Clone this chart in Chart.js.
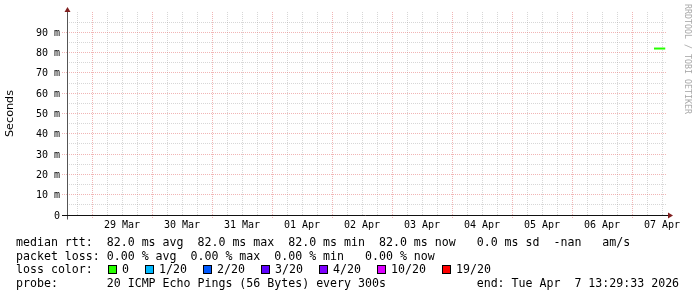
<!DOCTYPE html>
<html>
<head>
<meta charset="utf-8">
<script src="https://cdn.jsdelivr.net/npm/chart.js@4.4.1/dist/chart.umd.min.js"></script>
<style>
html,body{margin:0;padding:0;background:#fff;width:697px;height:297px;overflow:hidden;}
#wrap{position:relative;width:697px;height:297px;}
#c{position:absolute;left:0;top:0;}
.leg{position:absolute;left:16px;font-family:"DejaVu Sans Mono",monospace;font-size:11.6px;line-height:14px;white-space:pre;color:#000;}
.box{position:absolute;box-sizing:border-box;width:9px;height:9px;border:1px solid #000;top:264.5px;}
.lbl{position:absolute;font-family:"DejaVu Sans Mono",monospace;font-size:11.6px;line-height:14px;white-space:pre;color:#000;top:262.4px;}
.wm{position:absolute;left:693px;top:4px;transform-origin:0 0;transform:rotate(90deg);font-family:"DejaVu Sans Mono",monospace;font-size:8.3px;line-height:10px;white-space:pre;color:#a8a8a8;}
</style>
</head>
<body>
<div id="wrap">
<canvas id="c" width="697" height="297"></canvas>
<div class="wm">RRDTOOL / TOBI OETIKER</div>
<div class="leg" style="top:234.8px">median rtt:  82.0 ms avg  82.0 ms max  82.0 ms min  82.0 ms now   0.0 ms sd  -nan   am/s</div>
<div class="leg" style="top:248.6px">packet loss: 0.00 % avg  0.00 % max  0.00 % min   0.00 % now</div>
<div class="leg" style="top:262.4px">loss color:</div>
<div class="leg" style="top:276.2px">probe:       20 ICMP Echo Pings (56 Bytes) every 300s             end: Tue Apr  7 13:29:33 2026</div>
<div id="lossLegend"></div>
</div>
<script>
// ---- data ----
// x values: hours since 29 Mar 00:00
const dayLabels = ['29 Mar','30 Mar','31 Mar','01 Apr','02 Apr','03 Apr','04 Apr','05 Apr','06 Apr','07 Apr'];
const sampleHours = [224.8, 225.8, 226.8, 227.8, 228.8, 229.3];
const medianRttMs = [82, 82, 82, 82, 82, 82];
const yTickValues = [0,5,10,15,20,25,30,35,40,45,50,55,60,65,70,75,80,85,90,95];
const yTickLabels = ['0','10 m','20 m','30 m','40 m','50 m','60 m','70 m','80 m','90 m'];
const lossLabels = ['0','1/20','2/20','3/20','4/20','10/20','19/20'];
const lossColors = ['#26ff00','#00b8ff','#0059ff','#5e00ff','#7e00ff','#dd00ff','#ff0000'];

// loss colour legend boxes
(function(){
  const host = document.getElementById('lossLegend');
  let x = 108;
  lossLabels.forEach((lab, i) => {
    const b = document.createElement('div');
    b.className = 'box'; b.style.left = x + 'px'; b.style.background = lossColors[i];
    host.appendChild(b);
    const t = document.createElement('div');
    t.className = 'lbl'; t.style.left = (x + 14) + 'px'; t.textContent = lab;
    host.appendChild(t);
    x += 30 + 7 * lab.length;
  });
})();

const xTickHours = [];
for (let h = -6; h <= 228; h += 6) xTickHours.push(h);

const MINOR = 'rgba(150,150,150,0.38)';
const MAJOR = 'rgba(225,90,90,0.45)';

const axesPlugin = {
  id: 'rrdAxes',
  afterDraw(chart) {
    const ctx = chart.ctx, a = chart.chartArea;
    const y0 = Math.round(chart.scales.y.getPixelForValue(0)) + 0.5;
    const xl = Math.round(a.left) + 0.5;
    ctx.save();
    ctx.lineWidth = 1;
    ctx.strokeStyle = '#555';
    ctx.beginPath();
    ctx.moveTo(xl, y0 + 4); ctx.lineTo(xl, a.top - 1);
    ctx.stroke();
    ctx.strokeStyle = '#111';
    ctx.beginPath();
    ctx.moveTo(a.left - 5, y0); ctx.lineTo(a.right + 2, y0);
    ctx.stroke();
    ctx.fillStyle = '#801f1f';
    ctx.beginPath();
    ctx.moveTo(a.right + 1, y0 - 3); ctx.lineTo(a.right + 6, y0); ctx.lineTo(a.right + 1, y0 + 3); ctx.closePath();
    ctx.fill();
    ctx.beginPath();
    ctx.moveTo(xl - 3, a.top); ctx.lineTo(xl, a.top - 5); ctx.lineTo(xl + 3, a.top); ctx.closePath();
    ctx.fill();
    ctx.restore();
  }
};

new Chart(document.getElementById('c'), {
  type: 'line',
  data: {
    datasets: [{
      data: sampleHours.map((h, i) => ({x: h, y: medianRttMs[i]})),
      borderColor: '#26ff00',
      borderWidth: 2,
      pointRadius: 0,
      tension: 0,
      fill: false
    }]
  },
  options: {
    responsive: false,
    devicePixelRatio: 1,
    animation: false,
    events: [],
    layout: {padding: {left: 0, right: 30, top: 12, bottom: 62}},
    plugins: {legend: {display: false}, tooltip: {enabled: false}, title: {display: false}},
    scales: {
      x: {
        type: 'linear',
        min: -10, max: 230,
        afterBuildTicks: s => { s.ticks = xTickHours.map(v => ({value: v})); },
        afterFit: s => { s.height = 20; },
        grid: {
          color: c => (c.tick && c.tick.value % 24 === 0) ? MAJOR : MINOR,
          tickColor: c => (c.tick && c.tick.value % 24 === 0) ? MAJOR : 'rgba(0,0,0,0)',
          tickLength: 3,
          lineWidth: 1,
          borderDash: [1, 1],
          tickBorderDash: [1, 1]
        },
        border: {display: false, dash: [1, 1]},
        ticks: {
          autoSkip: false, maxRotation: 0, minRotation: 0, padding: 1,
          color: '#000',
          font: {family: 'DejaVu Sans Mono', size: 10},
          callback: v => ((v - 12) % 24 === 0 && v >= 12) ? dayLabels[(v - 12) / 24] : ''
        }
      },
      y: {
        type: 'linear',
        min: 0, max: 100,
        afterBuildTicks: s => { s.ticks = yTickValues.map(v => ({value: v})); },
        afterFit: s => { s.width = 67; },
        grid: {
          color: c => (c.tick && c.tick.value % 10 === 0) ? MAJOR : MINOR,
          tickColor: c => (c.tick && c.tick.value % 10 === 0) ? MAJOR : 'rgba(0,0,0,0)',
          tickLength: 5,
          lineWidth: 1,
          borderDash: [1, 1],
          tickBorderDash: [1, 1]
        },
        border: {display: false, dash: [1, 1]},
        title: {
          display: true, text: 'Seconds', color: '#000',
          font: {family: 'DejaVu Sans', size: 11.2},
          padding: {top: 3, bottom: 0}
        },
        ticks: {
          autoSkip: false, padding: 2, color: '#000', labelOffset: 1,
          font: {family: 'DejaVu Sans Mono', size: 10},
          callback: v => (v % 10 === 0) ? yTickLabels[v / 10] : ''
        }
      }
    }
  },
  plugins: [axesPlugin]
});
</script>
</body>
</html>
